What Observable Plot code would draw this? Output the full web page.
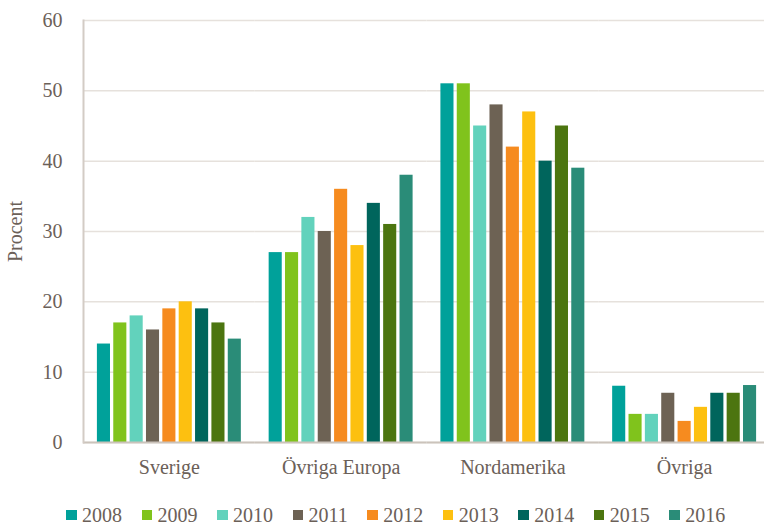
<!DOCTYPE html>
<html><head><meta charset="utf-8">
<script src="https://cdn.jsdelivr.net/npm/d3@7"></script>
<script src="https://cdn.jsdelivr.net/npm/@observablehq/plot@0.6"></script>
<style>
body{margin:0;background:#fff;font-family:"Liberation Serif",serif;}
#chart{width:764px;}
#legend{display:flex;align-items:center;padding-left:66px;height:22px;margin-top:19px;color:#6b6058;font-size:20px;line-height:20px;}
#legend .item{display:flex;align-items:center;margin-right:19.5px;}
#legend .sw{width:10.5px;height:10.5px;margin-right:5.5px;}
</style></head><body><div id="chart"></div><div id="legend"></div>
<script>
const regions = ["Sverige", "Övriga Europa", "Nordamerika", "Övriga"];
const years = ["2008", "2009", "2010", "2011", "2012", "2013", "2014", "2015", "2016"];
const sverige = [14, 17, 18, 16, 19, 20, 19, 17, 14.7];
const ovrigaEuropa = [27, 27, 32, 30, 36, 28, 34, 31, 38];
const nordamerika = [51, 51, 45, 48, 42, 47, 40, 45, 39];
const ovriga = [8, 4, 4, 7, 3, 5, 7, 7, 8.1];
const colors = ["#00a19a", "#80c31c", "#62d2bc", "#6d6254", "#f68b1f", "#fdc010", "#00655c", "#4c7510", "#2a8c78"];
const yTicks = [0, 10, 20, 30, 40, 50, 60];

const series = [sverige, ovrigaEuropa, nordamerika, ovriga];
const data = [];
regions.forEach((r, i) => years.forEach((y, j) => data.push({region: r, year: y, value: series[i][j]})));

const textColor = "#6b6058";
const plot = Plot.plot({
  width: 764, height: 485,
  marginLeft: 83, marginRight: -6, marginTop: 20, marginBottom: 43,
  style: {fontFamily: "Liberation Serif, serif", fontSize: "20px", color: textColor, background: "white"},
  fx: {domain: regions, paddingInner: 0, paddingOuter: 0, label: null, round: false},
  x: {domain: years, paddingInner: 0.2, paddingOuter: 0.85, axis: null, round: false},
  y: {domain: [0, 60], label: null},
  color: {domain: years, range: colors},
  marks: [
    Plot.gridY(yTicks, {stroke: "#e6e1dc", strokeOpacity: 1, strokeWidth: 1.5}),
    Plot.barY(data, {fx: "region", x: "year", y: "value", fill: "year"}),
    Plot.ruleY([0], {stroke: "#cbc3bb", strokeWidth: 2}),
    Plot.frame({anchor: "left", facetAnchor: "left", stroke: "#d3ccc5", strokeWidth: 2}),
    Plot.axisY(yTicks, {tickSize: 0, tickPadding: 21, label: "Procent", labelArrow: "none", labelAnchor: "center", labelOffset: 76, fill: textColor, fontFamily: "Liberation Serif, serif"}),
    Plot.axisFx({anchor: "bottom", tickSize: 0, tickPadding: 17, label: null, fill: textColor, fontFamily: "Liberation Serif, serif"})
  ]
});
document.getElementById("chart").appendChild(plot);

const legend = d3.select("#legend");
years.forEach((y, i) => {
  const it = legend.append("div").attr("class", "item");
  it.append("div").attr("class", "sw").style("background", colors[i]);
  it.append("span").text(y);
});
</script></body></html>
